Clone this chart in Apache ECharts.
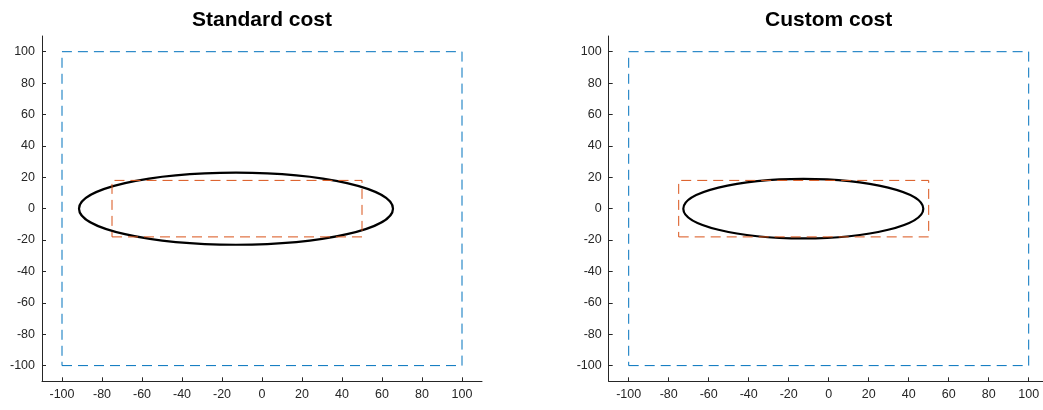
<!DOCTYPE html>
<html>
<head>
<meta charset="utf-8">
<script src="https://cdn.jsdelivr.net/npm/echarts@6/dist/echarts.min.js"></script>
<style>html,body{margin:0;padding:0;background:#fff}#c{width:1043px;height:410px}</style>
</head>
<body>
<div id="c"></div>
<script>
// ---- data ----
const titles = ['Standard cost', 'Custom cost'];
const axisRange = [-110, 110];
// the right panel is cut by the window edge: its visible x range ends here
const rightPanelXMax = 107.15;
const xTicks = [-100, -80, -60, -40, -20, 0, 20, 40, 60, 80, 100];
const yTicks = [-100, -80, -60, -40, -20, 0, 20, 40, 60, 80, 100];
// outer (blue) box: x range, y range
const outerBoxX = [-100, 100];
const outerBoxY = [-100, 100];
// inner (orange) box: x range, y range
const innerBoxX = [-75, 50];
const innerBoxY = [-18, 18];
// ellipses: [centerX, centerY, semiAxisX, semiAxisY]
const ellipseStandard = [-13, 0, 78.5, 23];
const ellipseCustom = [-12.7, 0, 60, 19];

function boxPoints(xr, yr) {
  return [[xr[0], yr[0]], [xr[1], yr[0]], [xr[1], yr[1]], [xr[0], yr[1]], [xr[0], yr[0]]];
}

const axisColor = '#262626';
const gridsDef = [
  { left: 42, top: 36, width: 440, height: 345.3 },
  { left: 608.7, top: 36, width: 434.3, height: 345.3 }
];
const centers = [262, 828.7];
const xMaxes = [axisRange[1], rightPanelXMax];
const ellipses = [ellipseStandard, ellipseCustom];
const font = 'Liberation Sans, Arial, sans-serif';

function mkX(i) {
  return {
    type: 'value', gridIndex: i, min: axisRange[0], max: xMaxes[i],
    axisLine: { show: true, onZero: false, lineStyle: { color: axisColor, width: 1 } },
    axisTick: { show: true, inside: true, length: 4, customValues: xTicks, lineStyle: { color: axisColor } },
    axisLabel: { customValues: xTicks, color: axisColor, fontSize: 12.5, fontFamily: font, margin: 7 },
    splitLine: { show: false }
  };
}
function mkY(i) {
  return {
    type: 'value', gridIndex: i, min: axisRange[0], max: axisRange[1],
    axisLine: { show: true, onZero: false, lineStyle: { color: axisColor, width: 1 } },
    axisTick: { show: true, inside: true, length: 4, customValues: yTicks, lineStyle: { color: axisColor } },
    axisLabel: { customValues: yTicks, color: axisColor, fontSize: 12.5, fontFamily: font, margin: 7 },
    splitLine: { show: false }
  };
}

const series = [];
[0, 1].forEach(i => {
  series.push({
    type: 'line', xAxisIndex: i, yAxisIndex: i, data: boxPoints(outerBoxX, outerBoxY),
    symbol: 'none', silent: true,
    lineStyle: { color: '#0072BD', width: 1, type: [10, 6] }
  });
  series.push({
    type: 'line', xAxisIndex: i, yAxisIndex: i, data: boxPoints(innerBoxX, innerBoxY),
    symbol: 'none', silent: true,
    lineStyle: { color: '#D95319', width: 1, type: [10, 6] }
  });
  series.push({
    type: 'custom', xAxisIndex: i, yAxisIndex: i, data: [ellipses[i]],
    renderItem: function (params, api) {
      const c = api.coord([api.value(0), api.value(1)]);
      const s = api.size([api.value(2), api.value(3)]);
      return {
        type: 'ellipse',
        shape: { cx: c[0], cy: c[1], rx: s[0], ry: s[1] },
        style: { fill: 'none', stroke: '#000', lineWidth: 2.2 }
      };
    }
  });
});

const chart = echarts.init(document.getElementById('c'), null, { renderer: 'canvas' });
chart.setOption({
  animation: false,
  backgroundColor: '#fff',
  title: titles.map((t, i) => ({
    text: t, left: centers[i], top: 10, textAlign: 'center', padding: 0,
    textStyle: { fontSize: 21, fontWeight: 'bold', color: '#000', fontFamily: font }
  })),
  grid: gridsDef,
  xAxis: [mkX(0), mkX(1)],
  yAxis: [mkY(0), mkY(1)],
  series: series
});
</script>
</body>
</html>
